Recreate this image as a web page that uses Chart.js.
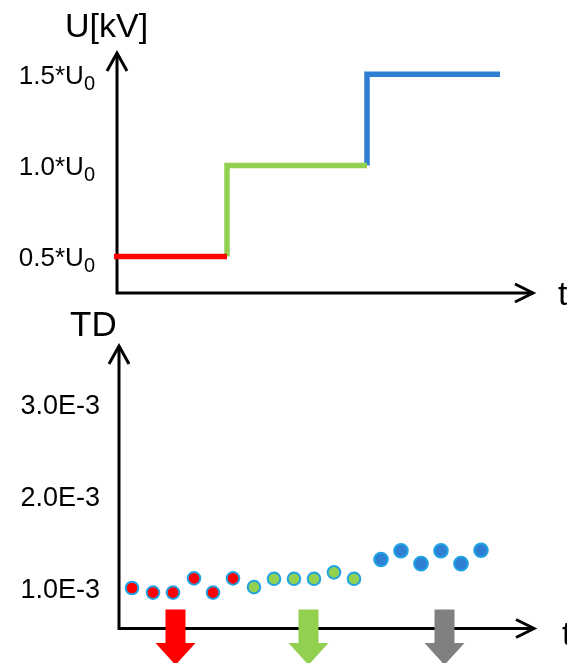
<!DOCTYPE html>
<html>
<head>
<meta charset="utf-8">
<script src="https://cdn.jsdelivr.net/npm/chart.js@4"></script>
<style>
  html, body { margin: 0; padding: 0; background: #fff; overflow: hidden; }
  #wrap { position: relative; width: 567px; height: 663px; }
  canvas { position: absolute; left: 0; }
  #voltage_chart { top: 0; width: 567px; height: 310px; }
  #td_chart { top: 310px; width: 567px; height: 353px; }
</style>
</head>
<body>
<div id="wrap">
  <canvas id="voltage_chart" width="567" height="310"></canvas>
  <canvas id="td_chart" width="567" height="353"></canvas>
</div>
<script>
// voltage steps (top)
const step_times = [-3, 110, 250, 383];
const voltage_levels = [0.5, 1.0, 1.5];
const step_colors = ["#ff0000", "#92d050", "#2e7fd3"];
const voltage_ticks = [0.5, 1.0, 1.5];
const voltage_tick_labels = ["0.5*U", "1.0*U", "1.5*U"];

// TD measurements (bottom)
const red_times = [13, 34, 54, 75, 94, 114];
const red_td = [1.0e-3, 0.95e-3, 0.95e-3, 1.105e-3, 0.95e-3, 1.105e-3];
const green_times = [135, 155, 175, 195, 215, 235];
const green_td = [1.01e-3, 1.1e-3, 1.1e-3, 1.1e-3, 1.17e-3, 1.1e-3];
const blue_times = [262, 282, 302, 322, 342, 362];
const blue_td = [1.31e-3, 1.405e-3, 1.265e-3, 1.405e-3, 1.265e-3, 1.41e-3];
const td_ticks = [1.0e-3, 2.0e-3, 3.0e-3];
const td_tick_labels = ["1.0E-3", "2.0E-3", "3.0E-3"];
const marker_times = [56.5, 189.5, 325.5];
const marker_colors = ["#ff0000", "#92d050", "#808080"];

const FONT = '"Liberation Sans", Arial, sans-serif';

function toPoints(xs, ys) {
  return xs.map((x, i) => ({ x: x, y: ys[i] }));
}

// black axes with open arrow heads, drawn under the data
function axesPlugin(cfg) {
  return {
    id: "hand_axes",
    beforeDatasetsDraw(chart) {
      const c = chart.ctx;
      const a = chart.chartArea;
      c.save();
      c.strokeStyle = "#000";
      c.lineWidth = 3;
      c.lineJoin = "miter";
      c.beginPath();
      c.moveTo(a.left, a.top + 3);
      c.lineTo(a.left, a.bottom);
      c.lineTo(a.right - 3, a.bottom);
      c.stroke();
      c.beginPath();
      c.moveTo(a.left - 10, a.top + 21);
      c.lineTo(a.left, a.top + 3);
      c.lineTo(a.left + 10, a.top + 21);
      c.stroke();
      c.beginPath();
      c.moveTo(a.right - 21, a.bottom - 9);
      c.lineTo(a.right - 3, a.bottom);
      c.lineTo(a.right - 21, a.bottom + 9);
      c.stroke();

      c.fillStyle = "#000";
      c.textBaseline = "alphabetic";
      c.textAlign = "left";
      c.font = cfg.titleSize + "px " + FONT;
      c.fillText(cfg.title, cfg.titleX, cfg.titleY);
      c.font = "34px " + FONT;
      c.fillText("t", cfg.tX, cfg.tY);

      // tick labels, optional subscript
      const ys = chart.scales.y;
      cfg.ticks.forEach((v, i) => {
        const py = ys.getPixelForValue(v);
        const base = py + 0.36 * cfg.tickSize;
        c.font = cfg.tickSize + "px " + FONT;
        let w = c.measureText(cfg.labels[i]).width;
        let ws = 0;
        if (cfg.sub) {
          c.font = cfg.subSize + "px " + FONT;
          ws = c.measureText(cfg.sub).width;
        }
        let x0 = cfg.labelRight - w - ws;
        c.font = cfg.tickSize + "px " + FONT;
        c.fillText(cfg.labels[i], x0, base);
        if (cfg.sub) {
          c.font = cfg.subSize + "px " + FONT;
          c.fillText(cfg.sub, x0 + w, base + 6.5);
        }
      });
      c.restore();
    },
  };
}

// block arrows under the time axis
const markerPlugin = {
  id: "stage_markers",
  afterDatasetsDraw(chart) {
    const c = chart.ctx;
    const xs = chart.scales.x;
    c.save();
    marker_times.forEach((t, i) => {
      const cx = xs.getPixelForValue(t);
      c.fillStyle = marker_colors[i];
      c.beginPath();
      c.moveTo(cx - 10, 299.5);
      c.lineTo(cx + 10, 299.5);
      c.lineTo(cx + 10, 333);
      c.lineTo(cx + 20, 333);
      c.lineTo(cx, 355);
      c.lineTo(cx - 20, 333);
      c.lineTo(cx - 10, 333);
      c.closePath();
      c.fill();
    });
    c.restore();
  },
};

const base_options = {
  responsive: false,
  animation: false,
  events: [],
  plugins: { legend: { display: false }, tooltip: { enabled: false }, title: { display: false } },
};

let step_sets = step_colors.map((color, i) => {
  let pts = [];
  if (i > 0) pts.push({ x: step_times[i], y: voltage_levels[i - 1] });
  pts.push({ x: step_times[i], y: voltage_levels[i] });
  pts.push({ x: step_times[i + 1], y: voltage_levels[i] });
  return {
    data: pts,
    showLine: true,
    borderColor: color,
    borderWidth: 5.5,
    borderCapStyle: "butt",
    borderJoinStyle: "miter",
    pointRadius: 0,
    tension: 0,
    fill: false,
    clip: false,
  };
});

let voltage_config = {
  type: "scatter",
  data: { datasets: step_sets },
  options: Object.assign({}, base_options, {
    layout: { padding: { left: 117, right: 31, top: 50, bottom: 17 } },
    scales: {
      x: { type: "linear", display: false, min: 0, max: 419 },
      y: { type: "linear", display: false, min: 0.3, max: 1.633 },
    },
  }),
  plugins: [
    axesPlugin({
      title: "U[kV]", titleSize: 34, titleX: 65, titleY: 37,
      tX: 558, tY: 305,
      ticks: voltage_ticks, labels: voltage_tick_labels,
      tickSize: 26, sub: "0", subSize: 20, labelRight: 95,
    }),
  ],
};

function dotSet(xs, ys, fill, r) {
  return {
    data: toPoints(xs, ys),
    backgroundColor: fill,
    borderColor: "#1fa3e3",
    borderWidth: 2,
    pointRadius: r,
    clip: false,
  };
}

let td_config = {
  type: "scatter",
  data: {
    datasets: [
      dotSet(red_times, red_td, "#ff0000", 6.3),
      dotSet(green_times, green_td, "#92d050", 6.3),
      dotSet(blue_times, blue_td, "#2e7fd3", 6.8),
    ],
  },
  options: Object.assign({}, base_options, {
    layout: { padding: { left: 119, right: 30, top: 33, bottom: 34.5 } },
    scales: {
      x: { type: "linear", display: false, min: 0, max: 418 },
      y: { type: "linear", display: false, min: 0.56e-3, max: 3.663e-3 },
    },
  }),
  plugins: [
    axesPlugin({
      title: "TD", titleSize: 35, titleX: 70, titleY: 26,
      tX: 562, tY: 335,
      ticks: td_ticks, labels: td_tick_labels,
      tickSize: 27, sub: null, subSize: 0, labelRight: 100,
    }),
    markerPlugin,
  ],
};

const voltageChart = new Chart(document.getElementById("voltage_chart").getContext("2d"), voltage_config);
const tdChart = new Chart(document.getElementById("td_chart").getContext("2d"), td_config);
</script>
</body>
</html>
